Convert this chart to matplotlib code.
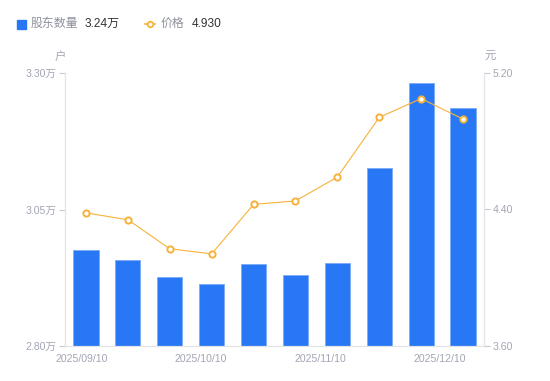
import numpy as np
import matplotlib
matplotlib.use("Agg")
import matplotlib.pyplot as plt

plt.rcParams['font.family'] = ['Liberation Sans', 'Noto Sans CJK SC', 'DejaVu Sans']

# data
dates = ['2025/09/10', '2025/09/20', '2025/09/30', '2025/10/10', '2025/10/20',
         '2025/10/31', '2025/11/10', '2025/11/20', '2025/11/30', '2025/12/10']
holders = [2.976, 2.958, 2.926, 2.913, 2.951, 2.930, 2.952, 3.126, 3.282, 3.236]  # 万户
price = [4.38, 4.34, 4.17, 4.14, 4.43, 4.45, 4.59, 4.94, 5.05, 4.93]
shown_dates = [0, 3, 6, 9]

blue = '#2878f5'
orange = '#f7b23b'
grey_txt = '#a3a6b4'
axis_col = '#e3e4e8'

fig = plt.figure(figsize=(5.5, 3.81), dpi=100)
ax = fig.add_axes([65/550, 1 - 346/381, 419/550, 273/381])
ax2 = ax.twinx()

x = np.arange(len(dates))
ax.bar(x, holders, width=0.6, color=blue, edgecolor='#7aaaf8', linewidth=0.6)
ax.set_ylim(2.80, 3.30)
ax.set_xlim(-0.5, len(dates) - 0.5)
ax.set_yticks([2.80, 3.05, 3.30])
ax.set_yticklabels([f'{v:.2f}万' for v in [2.80, 3.05, 3.30]])

ax2.plot(x, price, color=orange, lw=0.8, marker='o', markersize=4.5,
         markerfacecolor='white', markeredgecolor=orange, markeredgewidth=1.4, zorder=5)
ax2.set_ylim(3.60, 5.20)
ax2.set_yticks([3.60, 4.40, 5.20])
ax2.set_yticklabels([f'{v:.2f}' for v in [3.60, 4.40, 5.20]])

# date labels are spread evenly between the ends, not under each bar
ax.set_xticks(np.linspace(-0.1, 8.45, len(shown_dates)))
ax.set_xticklabels([dates[i] for i in shown_dates])

for a in (ax, ax2):
    a.spines['top'].set_visible(False)
    for s in ('left', 'right', 'bottom'):
        a.spines[s].set_color(axis_col)
    a.tick_params(colors=grey_txt, labelsize=7.6, length=4, width=0.8, pad=2)
    a.tick_params(axis='y', color='#c8cad2')
ax.tick_params(axis='x', length=0, pad=5.5)

fig.text(60/550, 1 - 57/381, '户', color=grey_txt, fontsize=8.2, ha='center', va='center')
fig.text(490/550, 1 - 57/381, '元', color=grey_txt, fontsize=8.2, ha='center', va='center')

# legend
ly = 1 - 24/381
fig.patches.append(plt.Rectangle((17/550, 1 - 28.5/381), 8.5/550, 8.5/381,
                                 transform=fig.transFigure, color=blue, figure=fig))
fig.text(31/550, ly, '股东数量', color='#8e919c', fontsize=8.6, va='center')
fig.text(85/550, ly, '3.24万', color='#333333', fontsize=8.6, va='center')
fig.lines.append(plt.Line2D([145/550, 155/550], [ly, ly], transform=fig.transFigure,
                            color=orange, lw=1.2, figure=fig))
fig.lines.append(plt.Line2D([150/550], [ly], transform=fig.transFigure, lw=0,
                            marker='o', markersize=4, markerfacecolor='white',
                            markeredgecolor=orange, markeredgewidth=1.3, figure=fig))
fig.text(161/550, ly, '价格', color='#8e919c', fontsize=8.6, va='center')
fig.text(192/550, ly, '4.930', color='#333333', fontsize=8.6, va='center')

fig.savefig('out.png', dpi=100)
